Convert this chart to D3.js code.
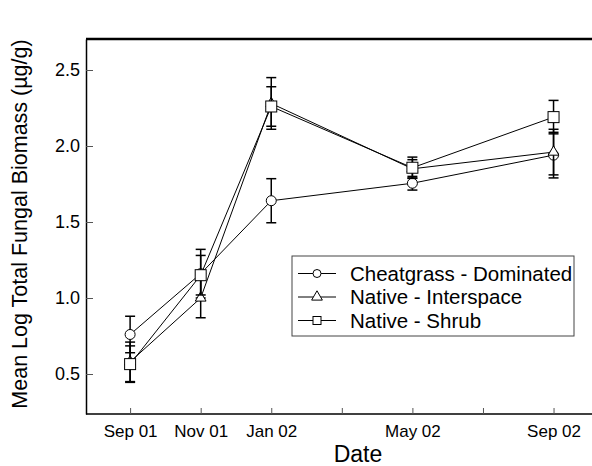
<meta charset="utf-8">
<body style="margin:0;background:#fff">
<script src="https://cdn.jsdelivr.net/npm/d3@7"></script>
<script>

    var outerWidth  = 592,
        outerHeight = 466;

    // months counted from Sep 2001
    var months     = [0, 2, 4, 8, 12];
    var tickMonths = [0, 2, 4, 6, 8, 10, 12];
    var tickLabels = ["Sep 01", "Nov 01", "Jan 02", "", "May 02", "", "Sep 02"];

    var seriesNames = ["Cheatgrass - Dominated", "Native - Interspace", "Native - Shrub"];
    var symbols     = ["circle", "triangle", "square"];

    var cheatMean  = [0.76, 1.16, 1.64, 1.755, 1.94];
    var cheatErr   = [0.12, 0.16, 0.145, 0.045, 0.15];
    var interMean  = [0.58, 1.00, 2.28, 1.85, 1.96];
    var interErr   = [0.13, 0.13, 0.17, 0.06, 0.15];
    var shrubMean  = [0.565, 1.15, 2.26, 1.857, 2.19];
    var shrubErr   = [0.12, 0.13, 0.13, 0.07, 0.11];

    var yTicks = [0.5, 1.0, 1.5, 2.0, 2.5];

    var series = [
        {name: seriesNames[0], symbol: symbols[0], mean: cheatMean, err: cheatErr},
        {name: seriesNames[1], symbol: symbols[1], mean: interMean, err: interErr},
        {name: seriesNames[2], symbol: symbols[2], mean: shrubMean, err: shrubErr}
    ];

    var margin = {top: 39, left: 86, bottom: 414};
    var font = "Liberation Sans, Arial, sans-serif";

    var svg = d3.select("body")
                .append("svg")
                .attr("width", outerWidth)
                .attr("height", outerHeight)
                .style("font-family", font);

    var x = d3.scaleLinear()
              .domain([-1.25, 13.6])
              .range([margin.left, 610]);

    var y = d3.scaleLinear()
              .domain([0.5 - 40 / 152, 2.5 + 31 / 152])
              .range([margin.bottom, margin.top]);

    // frame: top line heavy, runs off the right edge
    svg.append("line")
       .attr("x1", margin.left).attr("x2", 620)
       .attr("y1", margin.top).attr("y2", margin.top)
       .attr("stroke", "#000").attr("stroke-width", 2.5);

    // x axis, ticks pointing in
    var xAxis = d3.axisBottom(x)
                  .tickValues(tickMonths)
                  .tickSizeInner(-6)
                  .tickSizeOuter(0)
                  .tickFormat(function (d, i) { return tickLabels[i]; });

    var gx = svg.append("g")
                .attr("transform", "translate(0," + margin.bottom + ")")
                .call(xAxis);
    gx.select(".domain").attr("stroke", "#000").attr("stroke-width", 1.5)
      .attr("d", "M" + margin.left + ",0H620");
    gx.selectAll(".tick line").attr("stroke", "#555");
    gx.selectAll(".tick text")
      .attr("y", 11)
      .attr("font-size", 17)
      .attr("fill", "#000")
      .attr("font-family", font);

    var yAxis = d3.axisLeft(y)
                  .tickValues(yTicks)
                  .tickSizeInner(-7)
                  .tickSizeOuter(0)
                  .tickFormat(d3.format(".1f"));

    var gy = svg.append("g")
                .attr("transform", "translate(" + margin.left + ",0)")
                .call(yAxis);
    gy.select(".domain").attr("stroke", "#000").attr("stroke-width", 1.5);
    gy.selectAll(".tick line").attr("stroke", "#555");
    gy.selectAll(".tick text")
      .attr("x", -6)
      .attr("font-size", 18)
      .attr("fill", "#000")
      .attr("font-family", font);

    svg.append("text")
       .attr("x", 358).attr("y", 462)
       .attr("text-anchor", "middle")
       .attr("font-size", 23)
       .text("Date");

    svg.append("text")
       .attr("transform", "translate(27,224) rotate(-90)")
       .attr("text-anchor", "middle")
       .attr("font-size", 21.5)
       .text("Mean Log Total Fungal Biomass (\u00b5g/g)");

    var line = d3.line()
                 .x(function (d) { return x(d.m); })
                 .y(function (d) { return y(d.v); });

    function drawMarker(g, sym) {
        if (sym === "circle") {
            g.append("circle").attr("r", 5);
        } else if (sym === "square") {
            g.append("rect").attr("x", -5.5).attr("y", -5.5).attr("width", 11).attr("height", 11);
        } else {
            g.append("path").attr("d", d3.symbol().type(d3.symbolTriangle).size(50)());
        }
        g.selectAll("*").attr("fill", "#fff").attr("stroke", "#000").attr("stroke-width", 1);
    }

    series.forEach(function (s) {
        var pts = months.map(function (m, i) {
            return {m: m, v: s.mean[i], e: s.err[i]};
        });

        var g = svg.append("g");

        // error bars
        var eb = g.selectAll(".eb").data(pts).enter().append("g");
        eb.append("line")
          .attr("x1", function (d) { return x(d.m); })
          .attr("x2", function (d) { return x(d.m); })
          .attr("y1", function (d) { return y(d.v - d.e); })
          .attr("y2", function (d) { return y(d.v + d.e); });
        [-1, 1].forEach(function (sgn) {
            eb.append("line")
              .attr("x1", function (d) { return x(d.m) - 5; })
              .attr("x2", function (d) { return x(d.m) + 5; })
              .attr("y1", function (d) { return y(d.v + sgn * d.e); })
              .attr("y2", function (d) { return y(d.v + sgn * d.e); });
        });
        eb.selectAll("line").attr("stroke", "#000").attr("stroke-width", 1.5);

        g.append("path")
         .attr("d", line(pts))
         .attr("fill", "none")
         .attr("stroke", "#000")
         .attr("stroke-width", 1);

        g.selectAll(".mk").data(pts).enter().append("g")
         .attr("transform", function (d) { return "translate(" + x(d.m) + "," + y(d.v) + ")"; })
         .each(function () { drawMarker(d3.select(this), s.symbol); });
    });

    // legend
    var lg = svg.append("g").attr("transform", "translate(292,256)");
    lg.append("rect")
      .attr("width", 282).attr("height", 80)
      .attr("fill", "#fff")
      .attr("stroke", "#444").attr("stroke-width", 1);

    series.forEach(function (s, i) {
        var row = lg.append("g").attr("transform", "translate(0," + (17.5 + i * 23.5) + ")");
        row.append("line")
           .attr("x1", 6).attr("x2", 44)
           .attr("stroke", "#000").attr("stroke-width", 1);
        var mk = row.append("g").attr("transform", "translate(25,0)");
        drawMarker(mk, s.symbol);
        mk.selectAll("circle").attr("r", 4);
        mk.selectAll("rect").attr("x", -4).attr("y", -4).attr("width", 8).attr("height", 8);
        row.append("text")
           .attr("x", 58).attr("y", 7)
           .attr("font-size", 20.5)
           .text(s.name);
    });

</script>
</body>
